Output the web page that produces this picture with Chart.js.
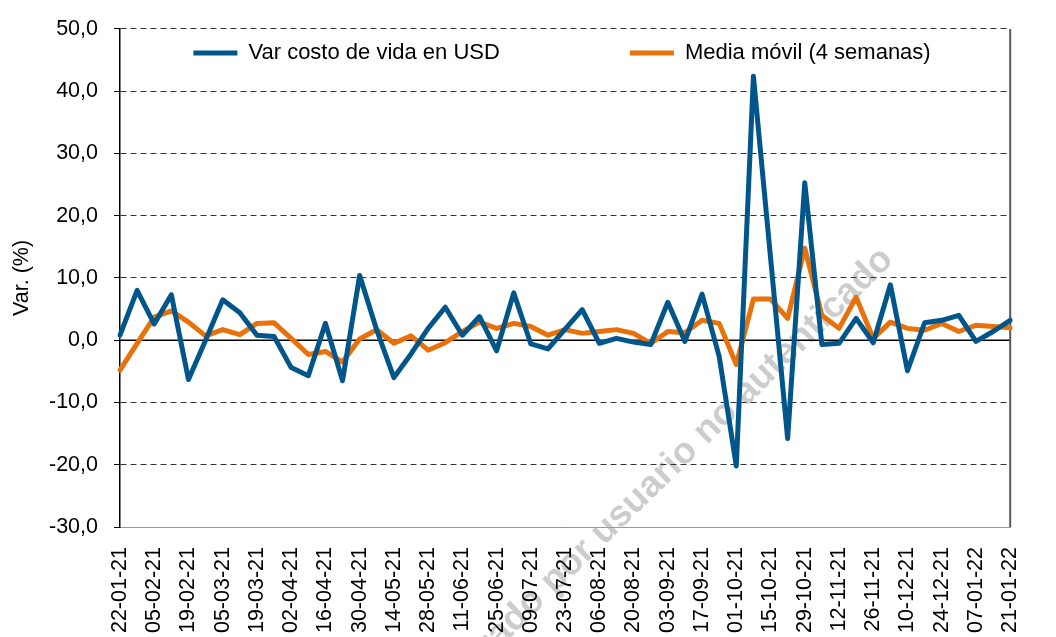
<!DOCTYPE html>
<html>
<head>
<meta charset="utf-8">
<script src="https://cdn.jsdelivr.net/npm/chart.js@4.4.1/dist/chart.umd.min.js"></script>
<style>
  html, body { margin: 0; padding: 0; background: #fff; }
</style>
</head>
<body>
<canvas id="chart" width="1056" height="637"></canvas>
<script>
const weeks = [
    '22-01-21', '29-01-21', '05-02-21', '12-02-21', '19-02-21', '26-02-21', '05-03-21', '12-03-21',
    '19-03-21', '26-03-21', '02-04-21', '09-04-21', '16-04-21', '23-04-21', '30-04-21', '07-05-21',
    '14-05-21', '21-05-21', '28-05-21', '04-06-21', '11-06-21', '18-06-21', '25-06-21', '02-07-21',
    '09-07-21', '16-07-21', '23-07-21', '30-07-21', '06-08-21', '13-08-21', '20-08-21', '27-08-21',
    '03-09-21', '10-09-21', '17-09-21', '24-09-21', '01-10-21', '08-10-21', '15-10-21', '22-10-21',
    '29-10-21', '05-11-21', '12-11-21', '19-11-21', '26-11-21', '03-12-21', '10-12-21', '17-12-21',
    '24-12-21', '31-12-21', '07-01-22', '14-01-22', '21-01-22'
];

const costoUsd = [
    0.8, 8.0, 2.6, 7.3, -6.3, 0.0, 6.5, 4.4, 0.8, 0.6, -4.4, -5.7, 2.7, -6.5, 10.4, 1.6,
    -6.0, -2.2, 1.9, 5.3, 0.8, 3.8, -1.7, 7.6, -0.6, -1.4, 1.8, 4.9, -0.5, 0.3, -0.3, -0.7,
    6.1, -0.2, 7.4, -2.6, -20.2, 42.4, 13.3, -15.8, 25.3, -0.7, -0.5, 3.5, -0.4, 8.9, -4.9, 2.8,
    3.2, 4.0, -0.2, 1.4, 3.2
];

const mediaMovil = [
    -4.8, -0.5, 3.7, 4.7, 2.9, 0.7, 1.7, 0.9, 2.7, 2.8, 0.3, -2.3, -1.8, -3.5, 0.2, 1.7,
    -0.5, 0.7, -1.6, -0.4, 1.4, 2.9, 1.9, 2.7, 2.2, 0.8, 1.7, 1.1, 1.4, 1.7, 1.1, -0.5,
    1.4, 1.2, 3.2, 2.7, -3.9, 6.6, 6.6, 3.5, 14.8, 4.0, 1.9, 6.9, 0.3, 2.9, 1.9, 1.6,
    2.7, 1.4, 2.4, 2.2, 2.0
];

const seriesNames = ['Var costo de vida en USD', 'Media móvil (4 semanas)'];
const legendGaps = [18, 1]; // espacios extra para separar los items de la leyenda
const yMin = -30;
const yMax = 50;
const yStep = 10;

Chart.defaults.font.family = "'Liberation Sans', Arial, sans-serif";
Chart.defaults.font.size = 21.5;
Chart.defaults.color = '#000';

const marco = {
    id: 'marco',
    afterInit(chart) {
        // la leyenda va dentro del area del grafico: no ocupa alto en el layout
        const fit = chart.legend.fit;
        chart.legend.fit = function () {
            fit.call(this);
            this.height = 0;
        };
    },
    afterLayout(chart) {
        // pero si necesita alto para que no la recorte el clip
        chart.legend.top = chart.legend.top - 7;
        chart.legend.bottom = chart.legend.top + 70;
        chart.legend.height = 70;
    },
    beforeDraw(chart) {
        const ctx = chart.ctx;
        ctx.save();
        ctx.translate(659, 492);
        ctx.rotate(-44.4 * Math.PI / 180);
        ctx.font = "bold 37px 'Liberation Sans', Arial, sans-serif";
        ctx.fillStyle = 'rgba(0,0,0,0.2)';
        ctx.textAlign = 'center';
        ctx.textBaseline = 'alphabetic';
        ctx.fillText('Generado por usuario no autenticado', 0, 0);
        ctx.restore();
    },
    beforeDatasetsDraw(chart) {
        const ctx = chart.ctx;
        const area = chart.chartArea;
        const y0 = chart.scales.y.getPixelForValue(0);
        ctx.save();
        ctx.strokeStyle = '#000';
        ctx.lineWidth = 1.5;
        ctx.beginPath();
        ctx.moveTo(area.left, y0);
        ctx.lineTo(area.right, y0);
        ctx.stroke();
        ctx.strokeStyle = '#595959';
        ctx.lineWidth = 2;
        ctx.beginPath();
        ctx.moveTo(area.right, area.top);
        ctx.lineTo(area.right, area.bottom);
        ctx.stroke();
        ctx.restore();
    }
};

new Chart(document.getElementById('chart'), {
    type: 'line',
    data: {
        labels: weeks,
        datasets: [{
            label: seriesNames[0],
            data: costoUsd,
            borderColor: '#00568A',
            backgroundColor: '#00568A',
            borderWidth: 5,
            borderCapStyle: 'round',
            borderJoinStyle: 'round',
            pointRadius: 0,
            tension: 0
        }, {
            label: seriesNames[1],
            data: mediaMovil,
            borderColor: '#E8710A',
            backgroundColor: '#E8710A',
            borderWidth: 5,
            borderCapStyle: 'round',
            borderJoinStyle: 'round',
            pointRadius: 0,
            tension: 0
        }]
    },
    options: {
        responsive: false,
        animation: false,
        layout: { padding: { top: 20, right: 13, bottom: 0, left: 0 } },
        plugins: {
            tooltip: { enabled: false },
            legend: {
                position: 'top',
                fullSize: false,
                align: 'center',
                labels: {
                    font: { size: 22 },
                    color: '#000',
                    padding: 20,
                    usePointStyle: true,
                    pointStyle: 'line',
                    pointStyleWidth: 44,
                    generateLabels(chart) {
                        const items = Chart.defaults.plugins.legend.labels.generateLabels(chart);
                        items.forEach((it, i) => { it.text = it.text + ' '.repeat(legendGaps[i]); });
                        return items;
                    }
                }
            }
        },
        scales: {
            x: {
                afterFit(scale) { scale.height = 110; },
                grid: { display: false, drawTicks: false },
                border: { display: true, color: '#999', width: 1 },
                ticks: {
                    autoSkip: false,
                    minRotation: 90,
                    maxRotation: 90,
                    padding: 20,
                    callback: (v, i) => (i % 2 === 0 ? weeks[i] : '')
                }
            },
            y: {
                min: yMin,
                max: yMax,
                afterFit(scale) { scale.width = 120; },
                grid: { color: '#333', lineWidth: 1, tickLength: 6, tickColor: '#000' },
                border: { display: true, color: '#000', width: 1.5, dash: [6, 4] },
                ticks: {
                    stepSize: yStep,
                    padding: 16,
                    callback: v => v.toFixed(1).replace('.', ',')
                },
                title: {
                    display: true,
                    text: 'Var. (%)',
                    padding: { top: 9, bottom: 0 },
                    font: { size: 21.5 }
                }
            }
        }
    },
    plugins: [marco]
});
</script>
</body>
</html>
